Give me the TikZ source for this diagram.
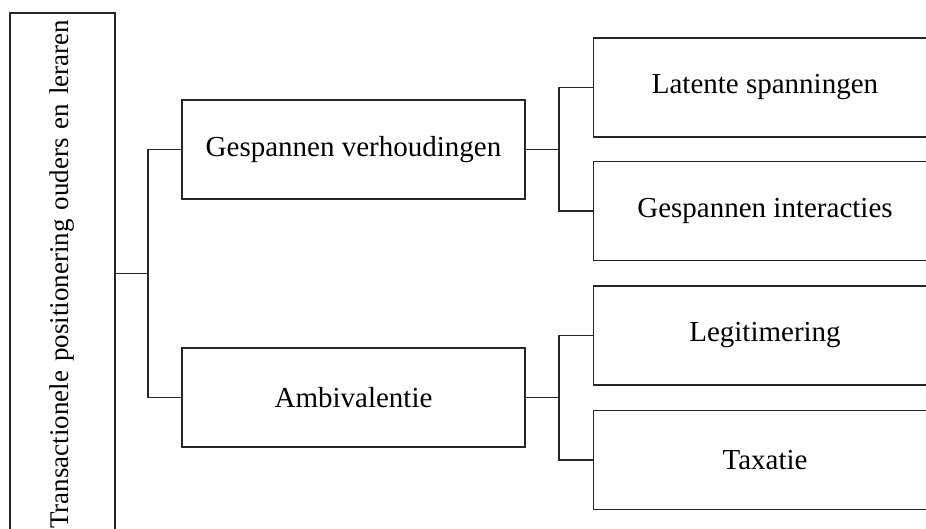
\documentclass[tikz,border=0pt]{standalone}
\usepackage{fontspec}
\setmainfont{Liberation Serif}
\usepackage{tikz}

\begin{document}
\begin{tikzpicture}[
    x=1pt, y=-1pt,
    box/.style={rectangle, draw=black!85, line width=1.3pt, minimum width=343pt, minimum height=99pt, text centered, font=\fontsize{29}{34}\selectfont},
    rootbox/.style={rectangle, draw=black!85, line width=1.3pt, rotate=90, minimum height=105pt, text width=518pt, inner xsep=7pt, align=right, font=\fontsize{27}{32}\selectfont},
    conn/.style={draw=black!85, line width=1.3pt}
]
    \useasboundingbox (0,0) rectangle (926,529);
    \clip (0,0) rectangle (926,529);

    % Root
    \node[rootbox] (root) at (62.5,279) {Transactionele positionering ouders en leraren};

    % Themes
    \node[box] (tense) at (353.5,149.5) {Gespannen verhoudingen};
    \node[box] (ambi) at (353.5,397.5) {Ambivalentie};

    % Subthemes
    \node[box] (latent) at (765,87.5) {Latente spanningen};
    \node[box] (interact) at (765,211) {Gespannen interacties};
    \node[box] (legit) at (765,335.5) {Legitimering};
    \node[box] (tax) at (765,460) {Taxatie};

    % Joints
    \coordinate (rootjoin) at (148,273.5);
    \coordinate (tensejoin) at (559,149.5);
    \coordinate (ambijoin) at (559,397.5);

    % Connectors
    \draw[conn] (root.south |- rootjoin) -- (rootjoin);
    \draw[conn] (tense.west) -| (rootjoin) |- (ambi.west);
    \draw[conn] (tense.east) -- (tensejoin);
    \draw[conn] (latent.west) -| (tensejoin) |- (interact.west);
    \draw[conn] (ambi.east) -- (ambijoin);
    \draw[conn] (legit.west) -| (ambijoin) |- (tax.west);
\end{tikzpicture}
\end{document}
